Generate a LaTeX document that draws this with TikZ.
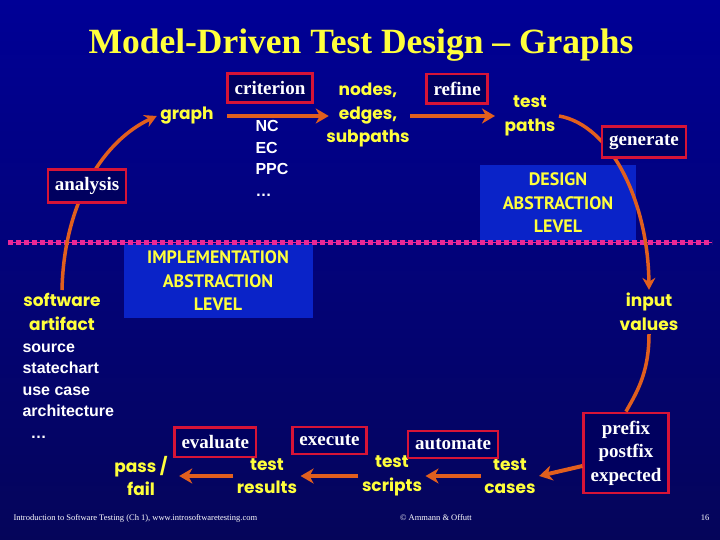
\documentclass[tikz,border=0pt]{standalone}
\usepackage{fontspec}
\setmainfont{Liberation Serif}
\newfontfamily\comicfont{Poppins}
\newfontfamily\arialfont{Liberation Sans}
\newfontfamily\levelfont{PT Sans}
\usepackage{xcolor}
\usetikzlibrary{shapes.geometric, arrows, arrows.meta, positioning}

\definecolor{bgtop}{RGB}{0,0,150}
\definecolor{bgbot}{RGB}{5,5,90}
\definecolor{ylw}{RGB}{255,255,60}
\definecolor{boxred}{RGB}{215,20,55}
\definecolor{boxfill}{RGB}{0,0,95}
\definecolor{lvlblue}{RGB}{10,35,200}
\definecolor{orng}{RGB}{225,95,30}
\definecolor{dashpink}{RGB}{235,40,150}

\begin{document}
\begin{tikzpicture}[x=1pt, y=-1pt,
            title/.style={text=ylw, font=\bfseries\fontsize{35.5}{40}\selectfont},
            comic/.style={text=ylw, align=center, font=\comicfont\bfseries\fontsize{17}{23.5}\selectfont},
            plain/.style={text=white, align=left, font=\arialfont\bfseries\fontsize{16}{21.5}\selectfont},
            stepbox/.style={draw=boxred, line width=2.5pt, fill=boxfill, text=white, align=center, inner xsep=7pt, inner ysep=8pt, font=\bfseries\fontsize{19}{23.5}\selectfont},
            level/.style={fill=lvlblue, text=ylw, align=center, font=\levelfont\bfseries\fontsize{18}{23.5}\selectfont},
            arrow/.style={line width=4pt, ->, >={Stealth[length=13pt, width=15pt, inset=4pt]}, draw=orng},
            curve/.style={line width=3.5pt, draw=orng},
            foot/.style={text=white, font=\fontsize{8.5}{10}\selectfont}]

            % Background
            \fill[top color=bgtop, bottom color=bgbot] (0,0) rectangle (720,540);
            \useasboundingbox (0,0) rectangle (720,540);

            % Levels
            \node (design) [level, minimum width=156pt, minimum height=76pt] at (558,203) {DESIGN\\ABSTRACTION\\LEVEL};
            \node (impl) [level, minimum width=189pt, minimum height=74pt] at (218,281) {IMPLEMENTATION\\ABSTRACTION\\LEVEL};
            \draw[dashpink, line width=1pt] (8,242) -- (712,242);
            \draw[dashpink, line width=5pt, dash pattern=on 5pt off 3pt] (8,242) -- (712,242);

            % Nodes
            \node (title) [title] at (361,45) {Model-Driven Test Design -- Graphs};
            \node (graph) [comic] at (187,116) {graph};
            \node (nodes) [comic] at (368,115) {nodes,\\edges,\\subpaths};
            \node (tpaths) [comic] at (530,116) {test\\paths};
            \node (input) [comic] at (649,312) {input\\values};
            \node (prefix) [stepbox] at (626,453) {prefix\\postfix\\expected};
            \node (cases) [comic] at (510,476) {test\\cases};
            \node (scripts) [comic] at (392,476) {test\\scripts};
            \node (results) [comic] at (267,476) {test\\results};
            \node (pass) [comic] at (141,476) {pass /\\fail};
            \node (art) [comic] at (62,312) {software\\artifact};
            \node (crit) [plain, anchor=north west] at (252,117) {NC\\EC\\PPC\\\ldots};
            \node (src) [plain, anchor=north west] at (19,340) {source\\statechart\\use case\\architecture\\\hspace{8pt}\ldots};

            % Arrows
            \draw [arrow, shorten <=10pt, shorten >=-6pt] (graph.east) -- node[stepbox, above=12pt] (criterion) {criterion} (nodes.west |- graph.east);
            \draw [arrow, shorten <=-3pt, shorten >=6pt] (nodes.east |- tpaths.west) -- node[stepbox, above=11pt] (refine) {refine} (tpaths.west);
            \draw [curve, ->, >={Stealth[length=12pt, width=13pt, inset=4pt]}] (art.north) .. controls (64,200) and (105,140) .. (graph.west);
            \node (analysis) [stepbox] at (87,186) {analysis};
            \draw [curve, ->, >={Stealth[length=12pt, width=13pt, inset=4pt]}] (tpaths.east) .. controls (610,125) and (648,200) .. (input.north);
            \node (generate) [stepbox] at (644,142) {generate};
            \draw [curve] (input.south) .. controls (649,375) and (635,395) .. (prefix.north);
            \draw [arrow] ([yshift=-13pt]prefix.west) -- (cases.east);
            \draw [arrow] (cases.west) -- node[stepbox, above=17pt] (automate) {automate} (scripts.east);
            \draw [arrow] (scripts.west) -- node[stepbox, above=21pt] (execute) {execute} (results.east);
            \draw [arrow, shorten >=8pt] (results.west) -- node[stepbox, above=18pt, xshift=13pt] (evaluate) {evaluate} (pass.east);

            % Footer
            \node (footl) [foot, anchor=west] at (10,518) {Introduction to Software Testing (Ch 1), www.introsoftwaretesting.com};
            \node (footc) [foot] at (436,518) {\textcopyright{} Ammann \& Offutt};
            \node (page) [foot] at (705,518) {16};
        \end{tikzpicture}
\end{document}
